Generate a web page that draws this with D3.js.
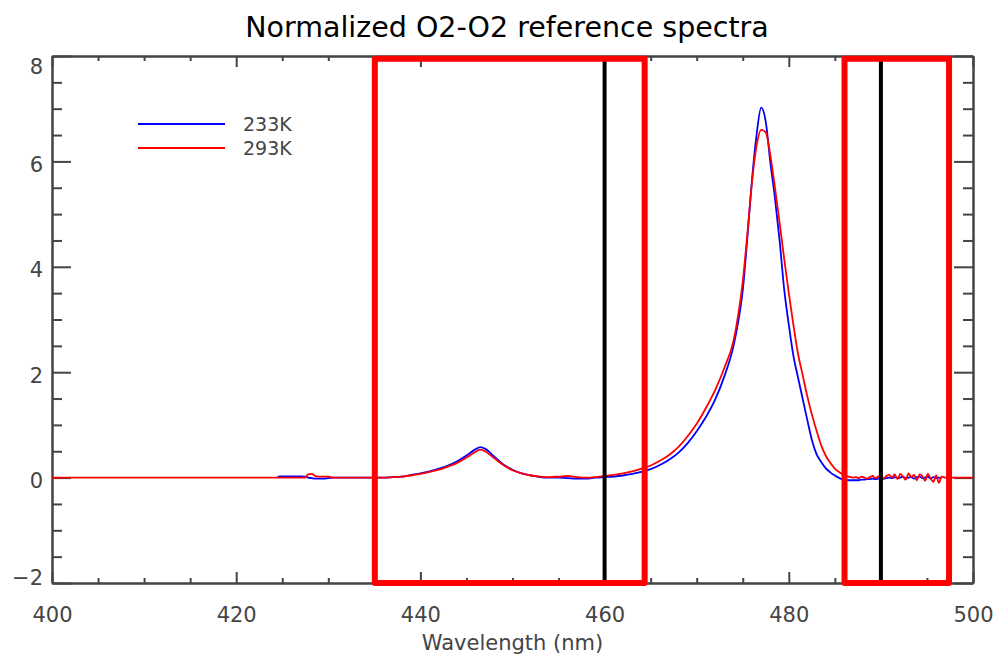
<!DOCTYPE html>
<html>
<head>
<meta charset="utf-8">
<script src="https://cdn.jsdelivr.net/npm/d3@7"></script>
<style>
  body { margin: 0; background: #fff; }
  svg { display: block; }
</style>
</head>
<body>
<div id="chart"></div>
<script>

// data
const wavelength = [
  400, 424.5, 425, 426, 427, 427.5, 427.8, 428.2, 428.6, 429, 429.5, 430, 430.5, 431, 436,
  437, 438, 439, 440, 441, 442, 443, 444, 445, 446, 446.5, 447, 448, 449, 450, 451, 452, 453,
  454, 455, 456, 457, 458, 459, 460, 461, 462, 463,
  464, 465, 466, 467, 468, 469, 470, 471, 472, 473, 474, 474.5, 475, 475.5, 476, 476.5, 477,
  477.5, 478, 478.5, 479, 479.5, 480, 480.5, 481, 481.5, 482, 482.5, 483, 483.5, 484, 484.5,
  485, 485.5, 486, 486.5, 487,
  487.3, 487.6, 487.9, 488.2, 488.5, 488.8, 489.1, 489.4, 489.7, 490.0, 490.3, 490.6, 490.9,
  491.2, 491.5, 491.8, 492.1, 492.4, 492.7, 493.0, 493.3, 493.6, 493.9, 494.2, 494.5, 494.8,
  495.1, 495.4, 495.7, 496.0, 496.3, 496.6,
  497, 500
];

const k233 = [
  null, 0.02, 0.025, 0.025, 0.025, 0.02, 0.0, -0.01, -0.02, -0.02, -0.02, -0.01, 0, 0, 0,
  0.01, 0.02, 0.05, 0.08, 0.12, 0.17, 0.23, 0.31, 0.42, 0.54, 0.58, 0.55, 0.40, 0.25, 0.15, 0.08, 0.04, 0.01,
  0.0, 0.0, -0.01, -0.02, -0.02, 0.0, 0.01, 0.02, 0.04, 0.07,
  0.11, 0.16, 0.24, 0.34, 0.47, 0.65, 0.88, 1.15, 1.48, 1.92, 2.5, 2.95, 3.55, 4.55, 5.65, 6.5, 7.02,
  6.75, 5.97, 5.3, 4.5, 3.57, 2.9, 2.31, 1.9, 1.5, 1.1, 0.72, 0.45, 0.3, 0.18, 0.1,
  0.04, -0.01, -0.04, -0.05, -0.05,
  -0.05, -0.05, -0.04, -0.04, -0.03, -0.03, -0.02, -0.03, -0.02, -0.01, -0.02, -0.01, 0.0,
  -0.01, 0.01, -0.01, 0.0, 0.02, -0.01, 0.0, 0.01, -0.02, 0.01, 0.02, -0.01, 0.0,
  0.02, -0.02, 0.01, -0.01, 0.0, -0.01,
  null, null
];

const k293 = [
  0, 0, 0, 0, 0, 0, 0.06, 0.07, 0.03, 0.02, 0.02, 0.02, 0.0, 0, 0,
  0.01, 0.02, 0.04, 0.07, 0.11, 0.15, 0.21, 0.28, 0.38, 0.49, 0.53, 0.50, 0.37, 0.24, 0.14, 0.08, 0.04, 0.02,
  0.01, 0.02, 0.03, 0.01, 0.0, 0.01, 0.03, 0.05, 0.08, 0.12,
  0.17, 0.23, 0.32, 0.43, 0.58, 0.78, 1.02, 1.32, 1.66, 2.08, 2.6, 3.08, 3.72, 4.62, 5.6, 6.3, 6.6,
  6.55, 6.11, 5.5, 4.84, 4.15, 3.5, 2.9, 2.35, 1.95, 1.55, 1.2, 0.9, 0.62, 0.42, 0.28,
  0.17, 0.1, 0.05, 0.02, 0.0,
  0.01, -0.01, 0.02, 0.0, -0.02, 0.01, 0.03, -0.01, 0.02, 0.04, -0.02, 0.03, 0.05,
  0.0, 0.06, -0.03, 0.07, 0.02, -0.04, 0.08, 0.01, 0.05, -0.05, 0.06, 0.03, -0.06,
  0.07, -0.02, -0.08, 0.04, -0.1, 0.02,
  0, 0
];

const seriesNames = ["233K", "293K"];
const seriesColors = ["#0000ff", "#ff0000"];

const xMajorTicks = [400, 420, 440, 460, 480, 500];
const xMinorTicks = [405, 410, 415, 425, 430, 435, 445, 450, 455, 465, 470, 475, 485, 490, 495];
const yMajorTicks = [-2, 0, 2, 4, 6, 8];
const yMinorTicks = [-1.5, -1, -0.5, 0.5, 1, 1.5, 2.5, 3, 3.5, 4.5, 5, 5.5, 6.5, 7, 7.5];

// highlighted windows and marker lines (nm)
const boxStart = [435.05, 486.05];
const boxEnd = [464.35, 497.4];
const boxTop = 7.95;
const markerLines = [460, 490];

// constants for plot design
const FRAME_WIDTH = 997;
const FRAME_HEIGHT = 656;
const MARGINS = {left: 52, right: 24, top: 56, bottom: 73};
const AXIS_COLOR = "#444";
const FONT = "DejaVu Sans, sans-serif";

const xScale = d3.scaleLinear()
                 .domain([400, 500])
                 .range([MARGINS.left, FRAME_WIDTH - MARGINS.right]);

const yScale = d3.scaleLinear()
                 .domain([-2, 8])
                 .range([FRAME_HEIGHT - MARGINS.bottom, MARGINS.top]);

const svg = d3.select("#chart")
              .append("svg")
                .attr("width", FRAME_WIDTH)
                .attr("height", FRAME_HEIGHT);

// title
svg.append("text")
   .attr("x", 507)
   .attr("y", 37)
   .attr("text-anchor", "middle")
   .attr("font-family", FONT)
   .attr("font-size", "28.5px")
   .attr("fill", "#000")
   .text("Normalized O2-O2 reference spectra");

const xBottom = yScale(-2), xTop = yScale(8);
const yLeft = xScale(400), yRight = xScale(500);

function styleAxis(g) {
  g.select(".domain").attr("stroke", AXIS_COLOR).attr("stroke-width", 2);
  g.selectAll(".tick line").attr("stroke", AXIS_COLOR).attr("stroke-width", 2);
  g.selectAll("text").attr("fill", AXIS_COLOR)
   .attr("font-family", FONT).attr("font-size", "21px");
}

// bottom axis, major ticks with labels
svg.append("g")
   .attr("transform", "translate(0," + xBottom + ")")
   .call(d3.axisBottom(xScale).tickValues(xMajorTicks).tickSizeInner(-11).tickSizeOuter(0)
           .tickPadding(24).tickFormat(d3.format("d")))
   .call(styleAxis);

svg.append("g")
   .attr("transform", "translate(0," + xBottom + ")")
   .call(d3.axisBottom(xScale).tickValues(xMinorTicks).tickSizeInner(-5).tickSizeOuter(0).tickFormat(""))
   .call(styleAxis);

// top axis
svg.append("g")
   .attr("transform", "translate(0," + xTop + ")")
   .call(d3.axisTop(xScale).tickValues(xMajorTicks).tickSizeInner(-11).tickSizeOuter(0).tickFormat(""))
   .call(styleAxis);

svg.append("g")
   .attr("transform", "translate(0," + xTop + ")")
   .call(d3.axisTop(xScale).tickValues(xMinorTicks).tickSizeInner(-5).tickSizeOuter(0).tickFormat(""))
   .call(styleAxis);

// left axis
const leftAxis = svg.append("g")
   .attr("transform", "translate(" + yLeft + ",0)")
   .call(d3.axisLeft(yScale).tickValues(yMajorTicks).tickSizeInner(-19).tickSizeOuter(0)
           .tickPadding(9).tickFormat(d3.format("d")))
   .call(styleAxis);

// keep the end labels inside the axis range, like IDL does
leftAxis.selectAll("text")
   .attr("dy", null)
   .attr("dominant-baseline", "central")
   .attr("y", (d) => {
     const c = yScale(d) + 3;
     const lo = xTop + 10, hi = xBottom - 6;
     return Math.min(Math.max(c, lo), hi) - yScale(d);
   });

svg.append("g")
   .attr("transform", "translate(" + yLeft + ",0)")
   .call(d3.axisLeft(yScale).tickValues(yMinorTicks).tickSizeInner(-10).tickSizeOuter(0).tickFormat(""))
   .call(styleAxis);

// right axis
svg.append("g")
   .attr("transform", "translate(" + yRight + ",0)")
   .call(d3.axisRight(yScale).tickValues(yMajorTicks).tickSizeInner(-19).tickSizeOuter(0).tickFormat(""))
   .call(styleAxis);

svg.append("g")
   .attr("transform", "translate(" + yRight + ",0)")
   .call(d3.axisRight(yScale).tickValues(yMinorTicks).tickSizeInner(-10).tickSizeOuter(0).tickFormat(""))
   .call(styleAxis);

// x axis title
svg.append("text")
   .attr("x", (yLeft + yRight) / 2)
   .attr("y", 650)
   .attr("text-anchor", "middle")
   .attr("font-family", FONT)
   .attr("font-size", "21px")
   .attr("fill", AXIS_COLOR)
   .text("Wavelength (nm)");

// spectra
const seriesValues = [k233, k293];

seriesValues.forEach((vals, i) => {
  const pts = wavelength.map((w, j) => ({w: w, v: vals[j]}));
  svg.append("path")
     .datum(pts)
     .attr("d", d3.line()
        .defined((d) => d.v !== null)
        .curve(d3.curveMonotoneX)
        .x((d) => xScale(d.w))
        .y((d) => yScale(d.v)))
     .attr("fill", "none")
     .attr("stroke", seriesColors[i])
     .attr("stroke-width", 1.8);
});

// legend
const legend = svg.append("g");
seriesNames.forEach((name, i) => {
  const ly = 124 + i * 24;
  legend.append("line")
        .attr("x1", 138).attr("x2", 225)
        .attr("y1", ly).attr("y2", ly)
        .attr("stroke", seriesColors[i])
        .attr("stroke-width", 1.8);
  legend.append("text")
        .attr("x", 243)
        .attr("y", ly)
        .attr("dominant-baseline", "central")
        .attr("font-family", FONT)
        .attr("font-size", "19px")
        .attr("fill", AXIS_COLOR)
        .text(name);
});

// marker lines
markerLines.forEach((m) => {
  svg.append("line")
     .attr("x1", xScale(m)).attr("x2", xScale(m))
     .attr("y1", yScale(boxTop)).attr("y2", yScale(-2))
     .attr("stroke", "#000")
     .attr("stroke-width", 4);
});

// highlight boxes
boxStart.forEach((b, i) => {
  svg.append("rect")
     .attr("x", xScale(b))
     .attr("y", yScale(boxTop))
     .attr("width", xScale(boxEnd[i]) - xScale(b))
     .attr("height", yScale(-2) - yScale(boxTop))
     .attr("fill", "none")
     .attr("stroke", "#ff0000")
     .attr("stroke-width", 6)
     .attr("stroke-linejoin", "round");
});

</script>
</body>
</html>
